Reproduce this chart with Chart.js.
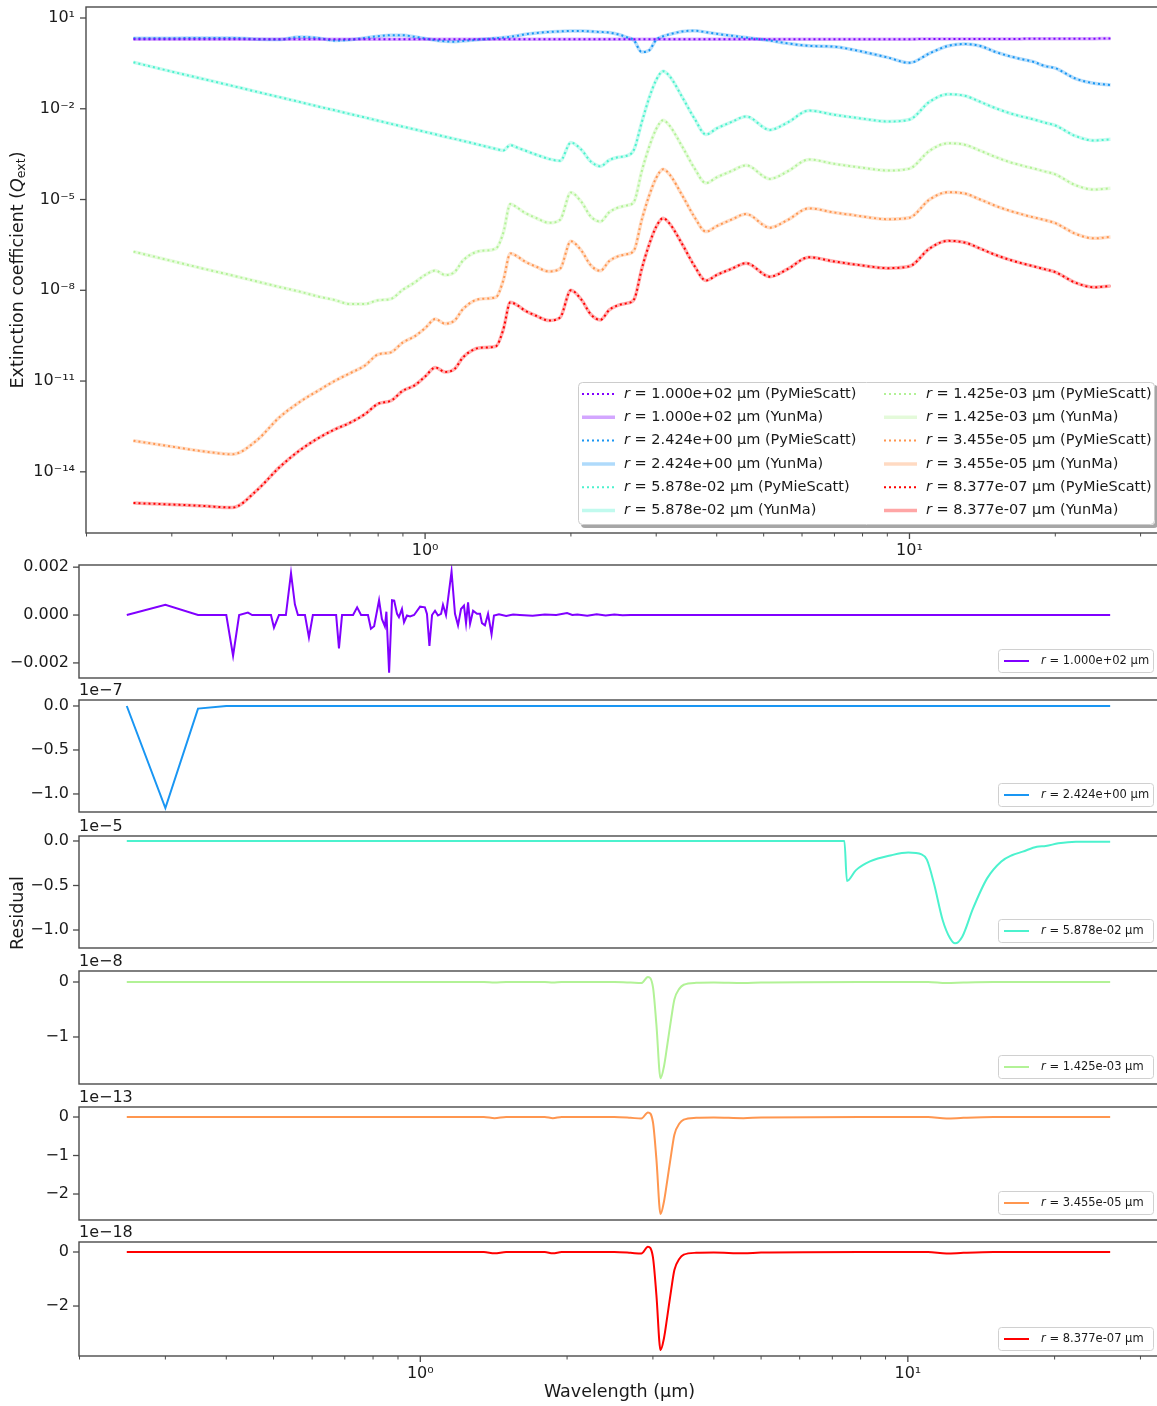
<!DOCTYPE html>
<html>
<head>
<meta charset="utf-8">
<script src="https://cdn.jsdelivr.net/npm/chart.js@4.4.1/dist/chart.umd.min.js"></script>
<style>
  html, body { margin: 0; padding: 0; background: #fff; overflow: hidden; }
  #wrap { position: relative; width: 1157px; height: 1406px; overflow: hidden; }
  canvas { position: absolute; left: 0; }
</style>
</head>
<body>
<div id="wrap">
  <canvas id="main" width="1165" height="560" style="top:0px"></canvas>
  <canvas id="res0"></canvas>
  <canvas id="res1"></canvas>
  <canvas id="res2"></canvas>
  <canvas id="res3"></canvas>
  <canvas id="res4"></canvas>
  <canvas id="res5"></canvas>
</div>
<script>
// ---- data ----
const wavelength = [0.25, 0.3, 0.35, 0.4, 0.45, 0.5, 0.55, 0.6, 0.65, 0.7,
  0.75, 0.8, 0.85, 0.9, 0.95, 1.0, 1.05, 1.1, 1.15, 1.2,
  1.3, 1.4, 1.45, 1.5, 1.55, 1.6, 1.7, 1.8, 1.9, 2.0,
  2.1, 2.2, 2.3, 2.4, 2.5, 2.6, 2.7, 2.8, 2.9, 3.0,
  3.1, 3.2, 3.4, 3.6, 3.8, 4.0, 4.3, 4.6, 5.15, 5.6,
  6.2, 7.0, 7.5, 8.0, 9.0, 10, 11, 12, 13, 14,
  15, 16, 17, 18, 19, 20, 22, 24, 26];

const qextR100 = [2.0, 2.0, 2.0, 2.0, 2.0, 2.0, 2.0, 2.0, 2.0, 2.0,
  2.0, 2.0, 2.0, 2.0, 2.0, 2.0, 2.0, 2.0, 2.0, 2.0,
  2.0, 2.0, 2.0, 2.0, 2.0, 2.0, 2.0, 2.0, 2.0, 2.0,
  2.0, 2.0, 2.0, 2.0, 2.0, 2.0, 2.0, 2.0, 2.0, 2.0,
  2.0, 2.0, 2.0, 2.0, 2.0, 2.0, 2.0, 2.0, 2.0, 2.0,
  2.0, 2.0, 2.0, 2.0, 2.0, 2.0, 2.01, 2.01, 2.02, 2.02,
  2.03, 2.03, 2.04, 2.05, 2.05, 2.06, 2.07, 2.08, 2.09];

const qextR2424 = [2.15, 2.15, 2.2, 2.2, 2.0, 1.95, 2.35, 2.2, 1.8, 1.9,
  2.2, 2.5, 2.7, 2.7, 2.4, 2.1, 1.85, 1.7, 1.65, 1.75,
  1.95, 2.15, 2.25, 2.4, 2.6, 2.85, 3.2, 3.45, 3.6, 3.72,
  3.72, 3.6, 3.45, 3.3, 2.9, 2.35, 1.8, 0.75, 0.85, 1.9,
  2.5, 2.9, 3.6, 3.8, 3.4, 3.0, 2.6, 2.25, 1.8, 1.45,
  1.2, 1.13, 0.95, 0.77, 0.5, 0.33, 0.68, 1.19, 1.38, 1.19,
  0.77, 0.56, 0.44, 0.36, 0.26, 0.22, 0.10, 0.070, 0.061];

const qextR5878 = [0.344, 0.169, 0.0946, 0.057, 0.0362, 0.0243, 0.0169, 0.012, 0.00895, 0.0067,
  0.0052, 0.00403, 0.00318, 0.00256, 0.0021, 0.00172, 0.00143, 0.00119, 0.00101, 8.6e-4,
  6.3e-4, 4.7e-4, 4.2e-4, 6.3e-4, 5.2e-4, 4.3e-4, 3.0e-4, 2.2e-4, 1.9e-4, 7.6e-4,
  4.5e-4, 1.78e-4, 1.26e-4, 2.0e-4, 2.5e-4, 2.75e-4, 4.5e-4, 3.5e-3, 0.0224, 0.0891,
  0.174, 0.117, 0.0234, 4.7e-3, 1.41e-3, 2.24e-3, 3.7e-3, 5.6e-3, 2.0e-3, 3.5e-3,
  8.7e-3, 6.3e-3, 5.4e-3, 4.7e-3, 3.8e-3, 4.4e-3, 0.017, 0.0302, 0.0269, 0.017,
  0.0107, 7.4e-3, 5.6e-3, 4.5e-3, 3.5e-3, 2.8e-3, 1.26e-3, 8.9e-4, 9.8e-4];

const qextR1425 = [1.9e-7, 9.3e-8, 5.1e-8, 3.1e-8, 1.95e-8, 1.29e-8, 9.1e-9, 6.3e-9, 4.8e-9, 3.5e-9,
  3.5e-9, 4.7e-9, 5.2e-9, 1.05e-8, 1.78e-8, 3.2e-8, 4.5e-8, 3.2e-8, 4.0e-8, 1.0e-7,
  2.0e-7, 2.4e-7, 7.9e-7, 7.1e-6, 5.4e-6, 3.8e-6, 2.4e-6, 1.7e-6, 2.14e-6, 1.7e-5,
  8.5e-6, 2.7e-6, 1.86e-6, 3.8e-6, 5.4e-6, 6.3e-6, 8.5e-6, 8.5e-5, 5.4e-4, 2.14e-3,
  4.2e-3, 2.7e-3, 5.4e-4, 1.07e-4, 3.5e-5, 5.4e-5, 8.9e-5, 1.35e-4, 4.8e-5, 8.5e-5,
  2.1e-4, 1.51e-4, 1.29e-4, 1.12e-4, 9.1e-5, 1.05e-4, 4.1e-4, 7.2e-4, 6.5e-4, 4.1e-4,
  2.6e-4, 1.78e-4, 1.35e-4, 1.07e-4, 8.5e-5, 6.8e-5, 3.0e-5, 2.14e-5, 2.34e-5];

const qextR3455 = [1.07e-13, 6.8e-14, 4.7e-14, 3.8e-14, 1.12e-13, 6.3e-13, 2.0e-12, 4.7e-12, 1.0e-11, 1.82e-11,
  3.2e-11, 7.6e-11, 8.9e-11, 1.9e-10, 2.95e-10, 5.6e-10, 1.12e-9, 7.9e-10, 1.0e-9, 2.5e-9,
  5.2e-9, 5.9e-9, 2.1e-8, 1.66e-7, 1.32e-7, 9.3e-8, 5.9e-8, 4.2e-8, 5.2e-8, 4.2e-7,
  2.1e-7, 6.6e-8, 4.4e-8, 9.3e-8, 1.32e-7, 1.55e-7, 2.1e-7, 2.1e-6, 1.32e-5, 5.2e-5,
  1.0e-4, 6.6e-5, 1.32e-5, 2.6e-6, 8.7e-7, 1.32e-6, 2.2e-6, 3.3e-6, 1.17e-6, 2.1e-6,
  5.1e-6, 3.7e-6, 3.2e-6, 2.75e-6, 2.24e-6, 2.5e-6, 1.0e-5, 1.74e-5, 1.58e-5, 1.0e-5,
  6.3e-6, 4.4e-6, 3.3e-6, 2.6e-6, 2.1e-6, 1.66e-6, 7.4e-7, 5.2e-7, 5.8e-7];

const qextR8377 = [9.3e-16, 8.3e-16, 7.4e-16, 6.6e-16, 2.5e-15, 1.4e-14, 5.0e-14, 1.26e-13, 2.5e-13, 4.2e-13,
  7.9e-13, 1.78e-12, 2.24e-12, 4.8e-12, 7.1e-12, 1.41e-11, 2.8e-11, 2.0e-11, 2.5e-11, 6.3e-11,
  1.26e-10, 1.41e-10, 5.0e-10, 4.0e-9, 3.2e-9, 2.24e-9, 1.41e-9, 1.0e-9, 1.26e-9, 1.0e-8,
  5.0e-9, 1.58e-9, 1.05e-9, 2.24e-9, 3.2e-9, 3.7e-9, 5.0e-9, 5.0e-8, 3.2e-7, 1.26e-6,
  2.4e-6, 1.58e-6, 3.2e-7, 6.3e-8, 2.1e-8, 3.2e-8, 5.2e-8, 7.9e-8, 2.8e-8, 5.0e-8,
  1.23e-7, 8.9e-8, 7.6e-8, 6.6e-8, 5.4e-8, 6.2e-8, 2.4e-7, 4.3e-7, 3.8e-7, 2.4e-7,
  1.51e-7, 1.05e-7, 7.9e-8, 6.3e-8, 5.0e-8, 4.0e-8, 1.78e-8, 1.26e-8, 1.38e-8];

// residuals (YunMa - PyMieScatt)
const resWl100 = [0.25, 0.30, 0.35, 0.40, 0.413, 0.425, 0.443, 0.452, 0.494, 0.501,
  0.513, 0.530, 0.543, 0.553, 0.561, 0.580, 0.591, 0.602, 0.672, 0.681,
  0.691, 0.728, 0.742, 0.756, 0.781, 0.792, 0.804, 0.823, 0.834, 0.846,
  0.852, 0.863, 0.875, 0.884, 0.896, 0.904, 0.917, 0.926, 0.939, 0.953,
  0.971, 0.999, 1.022, 1.032, 1.044, 1.057, 1.072, 1.087, 1.103, 1.113,
  1.129, 1.159, 1.178, 1.195, 1.212, 1.229, 1.241, 1.253, 1.265, 1.283,
  1.307, 1.326, 1.338, 1.357, 1.377, 1.400, 1.416, 1.45, 1.5, 1.55,
  1.6, 1.7, 1.8, 1.9, 2.0, 2.05, 2.1, 2.2, 2.3, 2.4,
  2.5, 2.6, 2.7, 3.0, 5.0, 10, 20, 26];
const resR100 = [0, 0.00043, 0, 0, -0.0017, 0, 0.0001, 0, 0, -0.00053,
  0, 0, 0.00175, 0.00045, 0, 0, -0.00094, 0, 0, -0.00139,
  0, 0, 0.00032, 0, 0, -0.00057, -0.00047, 0.00062, -0.00016, -0.00047,
  0.00014, -0.00241, 0.00062, 0.0006, 0.00005, -0.00009, 0.00025, -0.0003, -0.00002, -0.00006,
  0, 0.00035, 0.00032, 0.00005, -0.00129, 0, 0.00018, -0.00002, 0.00005, 0.00043,
  0, 0.00182, 0.00005, -0.00043, 0.00025, 0.00039, -0.00034, 0.00053, -0.00036, 0.00018,
  0.00005, 0.00005, -0.00034, -0.00043, 0.00005, -0.0008, -0.00002, 0.00003, -0.00004, 0.00002,
  0, -0.00003, 0.00002, 0, 0.00008, 0, 0.00002, -0.00003, 0.00003, -0.00002,
  0.00002, -0.00001, 0, 0, 0, 0, 0, 0];

const resWl2424 = [0.25, 0.30, 0.35, 0.40, 1.0, 3.0, 10, 26];
const resR2424 = [0, -1.16e-7, -3e-9, 0, 0, 0, 0, 0];

const resWl5878 = [0.25, 1.0, 3.0, 5.0, 7.41, 7.5, 7.82, 8.36, 9.25, 10.02,
  10.67, 10.94, 11.31, 11.79, 12.2, 12.5, 12.93, 13.6, 14.54, 15.55,
  16.35, 17.2, 18.39, 19.18, 20.35, 22.12, 26];
const resR5878 = [0, 0, 0, 0, 0, -4.5e-6, -3.3e-6, -2.3e-6, -1.6e-6, -1.3e-6,
  -1.5e-6, -2.1e-6, -4.75e-6, -8.9e-6, -1.09e-5, -1.15e-5, -1.075e-5, -7.6e-6, -4.2e-6, -2.3e-6,
  -1.6e-6, -1.2e-6, -6.4e-7, -5.6e-7, -2.6e-7, -8e-8, -8e-8];

const resWlSmall = [0.25, 0.5, 1.0, 1.35, 1.42, 1.5, 1.8, 1.87, 1.95, 2.2, 2.5, 2.7,
  2.84, 2.93, 3.0, 3.05, 3.11, 3.16, 3.21, 3.27, 3.32, 3.4, 3.47, 3.68,
  4.0, 4.6, 5.0, 8.0, 11.0, 12.0, 13.0, 15.0, 20.0, 26.0];
const resR1425 = [0, 0, 0, 0, -1e-10, 0, 0, -1e-10, 0, 0, 0, -1e-10,
  -2e-10, 9e-10, -9e-10, -7.8e-9, -1.75e-8, -1.54e-8, -1.15e-8, -6.7e-9, -3.2e-9, -1.2e-9, -5e-10, -1.5e-10,
  -1e-10, -2e-10, -1e-10, 0, 0, -2e-10, -1e-10, 0, 0, 0];
const resR3455 = [0, 0, 0, 0, -3e-15, 0, 0, -3e-15, 0, 0, 0, -2e-15,
  -4e-15, 1.2e-14, -1.3e-14, -1.1e-13, -2.52e-13, -2.2e-13, -1.65e-13, -9.7e-14, -4.6e-14, -1.7e-14, -7e-15, -2e-15,
  -1e-15, -3e-15, -1e-15, 0, 0, -4e-15, -2e-15, 0, 0, 0];
const resR8377 = [0, 0, 0, 0, -5e-20, 0, 0, -5e-20, 0, 0, 0, -3e-20,
  -6e-20, 1.9e-19, -1.9e-19, -1.6e-18, -3.63e-18, -3.2e-18, -2.4e-18, -1.4e-18, -6.7e-19, -2.5e-19, -1e-19, -3e-20,
  -2e-20, -5e-20, -2e-20, 0, 0, -6e-20, -3e-20, 0, 0, 0];

const radii = ['1.000e+02', '2.424e+00', '5.878e-02', '1.425e-03', '3.455e-05', '8.377e-07'];
const colors = ['#8000ff', '#1996f3', '#4cf2ce', '#b2f296', '#ff964f', '#ff0000'];

const mainYTicks = [10, 1e-2, 1e-5, 1e-8, 1e-11, 1e-14];
const mainYLabels = ['10\u00b9', '10\u207b\u00b2', '10\u207b\u2075', '10\u207b\u2078', '10\u207b\u00b9\u00b9', '10\u207b\u00b9\u2074'];
const xTickValues = [0.2, 0.3, 0.4, 0.5, 0.6, 0.7, 0.8, 0.9, 1, 2, 3, 4, 5, 6, 7, 8, 9, 10, 20, 30];

const resTicks = [[0.002, 0, -0.002], [0, -0.5e-7, -1e-7], [0, -0.5e-5, -1e-5], [0, -1e-8], [0, -1e-13, -2e-13], [0, -2e-18]];
const resTickLabels = [['0.002', '0.000', '\u22120.002'], ['0.0', '\u22120.5', '\u22121.0'], ['0.0', '\u22120.5', '\u22121.0'],
  ['0', '\u22121'], ['0', '\u22121', '\u22122'], ['0', '\u22122']];
const resOffsets = ['', '1e\u22127', '1e\u22125', '1e\u22128', '1e\u221213', '1e\u221218'];

// ---- drawing ----
Chart.defaults.font.family = '"DejaVu Sans", sans-serif';
Chart.defaults.color = '#1a1a1a';

const X_MIN = 0.1995, X_MAX = 32.9;
const FONT = '"DejaVu Sans", sans-serif';

function hexA(hex, a) {
  const n = parseInt(hex.slice(1), 16);
  return `rgba(${n >> 16}, ${(n >> 8) & 255}, ${n & 255}, ${a})`;
}
function seg(ctx, x1, y1, x2, y2) { ctx.beginPath(); ctx.moveTo(x1, y1); ctx.lineTo(x2, y2); ctx.stroke(); }
function isDecade(v) { const l = Math.log10(v); return Math.abs(l - Math.round(l)) < 1e-9; }
function rRect(ctx, x, y, w, h, r) {
  ctx.beginPath();
  ctx.moveTo(x + r, y); ctx.lineTo(x + w - r, y); ctx.arcTo(x + w, y, x + w, y + r, r);
  ctx.lineTo(x + w, y + h - r); ctx.arcTo(x + w, y + h, x + w - r, y + h, r);
  ctx.lineTo(x + r, y + h); ctx.arcTo(x, y + h, x, y + h - r, r);
  ctx.lineTo(x, y + r); ctx.arcTo(x, y, x + r, y, r); ctx.closePath();
}
// "r = ... μm" with an italic r
function legendText(ctx, x, y, size, rest) {
  ctx.textBaseline = 'middle'; ctx.textAlign = 'left'; ctx.fillStyle = '#1a1a1a';
  ctx.font = `italic ${size}px ${FONT}`;
  ctx.fillText('r', x, y);
  const w = ctx.measureText('r').width;
  ctx.font = `${size}px ${FONT}`;
  ctx.fillText(rest, x + w, y);
}

const framePlugin = {
  id: 'frame',
  afterDatasetsDraw(chart, args, o) {
    const { ctx, chartArea: a } = chart;
    ctx.save();
    ctx.strokeStyle = '#4a4a4a';
    ctx.lineWidth = 1.4;
    ctx.strokeRect(a.left, a.top, a.right - a.left, a.bottom - a.top);
    const ys = chart.scales.y;
    ctx.lineWidth = 1.3;
    ys.ticks.forEach(t => {
      const py = ys.getPixelForValue(t.value);
      seg(ctx, a.left - 6, py, a.left, py);
    });
    if (o.xTicks) {
      const xs = chart.scales.x;
      xs.ticks.forEach(t => {
        const px = xs.getPixelForValue(t.value);
        const major = isDecade(t.value);
        ctx.lineWidth = major ? 1.3 : 1;
        seg(ctx, px, a.bottom, px, a.bottom + (major ? 6 : 3.5));
      });
    }
    if (o.offset) {
      ctx.font = `16px ${FONT}`; ctx.fillStyle = '#1a1a1a';
      ctx.textAlign = 'left'; ctx.textBaseline = 'bottom';
      ctx.fillText(o.offset, a.left, a.top - 1);
    }
    ctx.restore();
  }
};

const mainDecor = {
  id: 'mainDecor',
  afterDraw(chart) {
    const { ctx, chartArea: a } = chart;
    ctx.save();
    // legend box with shadow
    const bw = 577, bh = 143;
    const bx = a.right - 582, by = a.bottom - 151;
    ctx.fillStyle = 'rgba(0,0,0,0.35)';
    rRect(ctx, bx + 3, by + 3, bw, bh, 4); ctx.fill();
    ctx.fillStyle = '#fff';
    rRect(ctx, bx, by, bw, bh, 4); ctx.fill();
    ctx.strokeStyle = '#cccccc'; ctx.lineWidth = 1;
    rRect(ctx, bx + 0.5, by + 0.5, bw - 1, bh - 1, 4); ctx.stroke();
    for (let i = 0; i < 6; i++) {
      const col = Math.floor(i / 3);
      const x0 = bx + (col === 0 ? 4 : 306);
      for (let k = 0; k < 2; k++) {
        const row = (i % 3) * 2 + k;
        const y = by + 12 + row * 23.3;
        if (k === 0) {
          ctx.strokeStyle = colors[i]; ctx.lineWidth = 2; ctx.setLineDash([2, 3]);
        } else {
          ctx.strokeStyle = hexA(colors[i], 0.35); ctx.lineWidth = 3.5; ctx.setLineDash([]);
        }
        seg(ctx, x0, y, x0 + 33, y);
        ctx.setLineDash([]);
        legendText(ctx, x0 + 42, y, 14.5, ` = ${radii[i]} \u00b5m (${k === 0 ? 'PyMieScatt' : 'YunMa'})`);
      }
    }
    // y label with Q_ext
    ctx.translate(18, (a.top + a.bottom) / 2);
    ctx.rotate(-Math.PI / 2);
    ctx.fillStyle = '#1a1a1a'; ctx.textBaseline = 'middle'; ctx.textAlign = 'left';
    const parts = [
      ['Extinction coefficient (', `17.5px ${FONT}`, 0],
      ['Q', `italic 17.5px ${FONT}`, 0],
      ['ext', `12.5px ${FONT}`, 4],
      [')', `17.5px ${FONT}`, 0]
    ];
    let total = 0;
    parts.forEach(p => { ctx.font = p[1]; total += ctx.measureText(p[0]).width; });
    let x = -total / 2;
    parts.forEach(p => { ctx.font = p[1]; ctx.fillText(p[0], x, p[2]); x += ctx.measureText(p[0]).width; });
    ctx.restore();
  }
};

// main panel
const qextSeries = [qextR100, qextR2424, qextR5878, qextR1425, qextR3455, qextR8377];
const mainSets = [];
qextSeries.forEach((vals, i) => {
  const pts = wavelength.map((w, k) => ({ x: w, y: vals[k] }));
  mainSets.push({ label: `r = ${radii[i]} \u00b5m (PyMieScatt)`, data: pts, borderColor: colors[i],
    borderWidth: 2, borderDash: [2, 3], pointRadius: 0, cubicInterpolationMode: 'monotone', order: 1 });
  mainSets.push({ label: `r = ${radii[i]} \u00b5m (YunMa)`, data: pts, borderColor: hexA(colors[i], 0.3),
    borderWidth: 3.5, pointRadius: 0, cubicInterpolationMode: 'monotone', order: 2 });
});

function xScale(showLabels, height) {
  return {
    type: 'logarithmic', min: X_MIN, max: X_MAX, display: showLabels,
    grid: { display: false, drawTicks: false }, border: { display: false },
    afterBuildTicks: s => { s.ticks = xTickValues.map(v => ({ value: v })); },
    afterFit: s => { s.height = height; s.paddingLeft = 0; s.paddingRight = 0; },
    ticks: { autoSkip: false, maxRotation: 0, padding: 8, font: { size: 16 },
      callback: v => (v === 1 ? '10\u2070' : v === 10 ? '10\u00b9' : '') }
  };
}

new Chart(document.getElementById('main'), {
  type: 'line',
  data: { datasets: mainSets },
  options: {
    responsive: false, animation: false, devicePixelRatio: 1,
    layout: { padding: { top: 7, right: 5, left: 0, bottom: 0 } },
    plugins: { legend: { display: false }, tooltip: { enabled: false }, frame: { xTicks: true } },
    scales: {
      x: xScale(true, 27),
      y: {
        type: 'logarithmic', min: 9.5e-17, max: 23.1,
        grid: { display: false, drawTicks: false }, border: { display: false },
        afterBuildTicks: s => { s.ticks = mainYTicks.map(v => ({ value: v })); },
        afterFit: s => { s.width = 86; s.paddingTop = 0; s.paddingBottom = 0; },
        ticks: { autoSkip: false, padding: 11, font: { size: 16 }, callback: (v, i) => mainYLabels[i] }
      }
    }
  },
  plugins: [framePlugin, mainDecor]
});

// residual panels
const resWls = [resWl100, resWl2424, resWl5878, resWlSmall, resWlSmall, resWlSmall];
const resVals = [resR100, resR2424, resR5878, resR1425, resR3455, resR8377];
const panelBox = [[565, 678], [700, 812], [836, 948], [971, 1084], [1107, 1220], [1242, 1356]];
const panelRange = [[-0.00263, 0.00209], [-1.205e-7, 0.068e-7], [-1.202e-5, 0.056e-5],
  [-1.855e-8, 0.2e-8], [-2.675e-13, 0.26e-13], [-3.85e-18, 0.37e-18]];

resVals.forEach((vals, i) => {
  const [top, bottom] = panelBox[i];
  const last = i === 5;
  const below = last ? 50 : 8;
  const cv = document.getElementById('res' + i);
  const cTop = top - 20;
  cv.width = 1165;
  cv.height = bottom - top + 20 + below;
  cv.style.top = cTop + 'px';
  const decor = {
    id: 'resDecor',
    afterDraw(chart) {
      const { ctx, chartArea: a } = chart;
      ctx.save();
      const bw = 156, bh = 24, bx = a.right - 6 - bw, by = a.bottom - 5 - bh;
      ctx.fillStyle = 'rgba(255,255,255,0.85)';
      rRect(ctx, bx, by, bw, bh, 3); ctx.fill();
      ctx.strokeStyle = '#d0d0d0'; ctx.lineWidth = 1;
      rRect(ctx, bx + 0.5, by + 0.5, bw - 1, bh - 1, 3); ctx.stroke();
      ctx.strokeStyle = colors[i]; ctx.lineWidth = 2;
      seg(ctx, bx + 6, by + bh / 2, bx + 31, by + bh / 2);
      legendText(ctx, bx + 43, by + bh / 2, 11.5, ` = ${radii[i]} \u00b5m`);
      ctx.fillStyle = '#1a1a1a'; ctx.textAlign = 'center'; ctx.textBaseline = 'middle';
      if (i === 2) {
        ctx.translate(18, 913 - cTop);
        ctx.rotate(-Math.PI / 2);
        ctx.font = `17.5px ${FONT}`;
        ctx.fillText('Residual', 0, 0);
      }
      if (last) {
        ctx.font = `17.5px ${FONT}`;
        ctx.fillText('Wavelength (\u00b5m)', (a.left + a.right) / 2, 1392 - cTop);
      }
      ctx.restore();
    }
  };
  new Chart(cv, {
    type: 'line',
    data: {
      datasets: [{
        label: `r = ${radii[i]} \u00b5m`,
        data: resWls[i].map((w, k) => ({ x: w, y: vals[k] })),
        borderColor: colors[i], borderWidth: 2, pointRadius: 0,
        tension: 0, cubicInterpolationMode: i <= 1 ? 'default' : 'monotone'
      }]
    },
    options: {
      responsive: false, animation: false, devicePixelRatio: 1,
      layout: { padding: { top: 20, right: 5, left: 0, bottom: last ? 0 : below } },
      plugins: { legend: { display: false }, tooltip: { enabled: false },
        frame: { xTicks: last, offset: resOffsets[i] } },
      scales: {
        x: xScale(last, last ? 50 : 0),
        y: {
          type: 'linear', min: panelRange[i][0], max: panelRange[i][1],
          grid: { display: false, drawTicks: false }, border: { display: false },
          afterBuildTicks: s => { s.ticks = resTicks[i].map(v => ({ value: v })); },
          afterFit: s => { s.width = 79; s.paddingTop = 0; s.paddingBottom = 0; },
          ticks: { autoSkip: false, padding: 10, font: { size: 16 }, callback: (v, k) => resTickLabels[i][k] }
        }
      }
    },
    plugins: [framePlugin, decor]
  });
});
</script>
</body>
</html>
